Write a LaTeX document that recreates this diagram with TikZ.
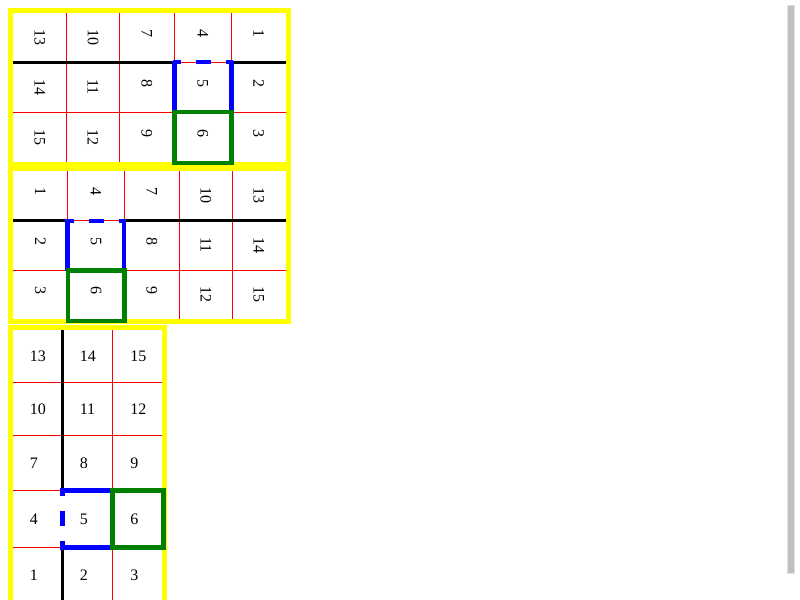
\documentclass[tikz,border=0pt]{standalone}
\usepackage{fontspec}
\setmainfont{Liberation Serif}
\definecolor{cellred}{RGB}{255,0,0}
\definecolor{frameyellow}{RGB}{255,255,0}
\definecolor{markblue}{RGB}{0,0,255}
\definecolor{markgreen}{RGB}{0,128,0}
\definecolor{barfill}{RGB}{192,192,192}
\definecolor{baredge}{RGB}{225,225,225}
\tikzset{
  num/.style={inner sep=0pt, font=\fontsize{12pt}{14pt}\selectfont},
  rnum/.style={num, rotate=-90, anchor=west},
  hnum/.style={num, anchor=west},
  thin grid/.style={draw=cellred, line width=0.75pt},
  thick black/.style={draw=black, line width=2.4pt},
  frame/.style={draw=frameyellow, line width=3.75pt},
  blueline/.style={draw=markblue, line width=3.375pt},
  bluedash/.style={draw=markblue, line width=3.375pt, dash pattern=on 11.25pt off 11.25pt, dash phase=5.25pt},
  greenbox/.style={draw=markgreen, line width=3.375pt},
}
\begin{document}
\begin{tikzpicture}[x=0.75pt,y=-0.75pt]
\useasboundingbox (0,0) rectangle (800,600);
\clip (0,0) rectangle (800,600);
\fill[white] (0,0) rectangle (800,600);

% ---------------- Grid 1 ----------------
\foreach \xx in {66.7,119.3,174.3,231.3} \draw[thin grid] (\xx,13) -- (\xx,162);
\foreach \yy in {62,112} \draw[thin grid] (13,\yy) -- (286,\yy);
\draw[thick black] (13,62.2) -- (174.5,62.2);
\draw[thick black] (231.3,62.2) -- (286,62.2);
\foreach \cx [count=\c] in {39.85,93,146.8,202.8,258.65}
  \foreach \ty [count=\r] in {29.5,79,129} {
    \pgfmathtruncatemacro{\v}{15-3*\c+\r}
    \node[rnum] (ga-\r-\c) at (\cx,\ty) {\v};
  }
\draw[frame] (10.5,10.5) rectangle (288.5,164.5);
\draw[blueline] (174.5,60.5) -- (174.5,112);
\draw[blueline] (231.3,60.5) -- (231.3,112);
\draw[bluedash] (172.5,62.2) -- (233.3,62.2);
\draw[greenbox] (174.5,112) rectangle (231.3,163);

% ---------------- Grid 2 ----------------
\foreach \xx in {67.7,124.3,179.3,232.3} \draw[thin grid] (\xx,170.7) -- (\xx,319);
\foreach \yy in {220.3,270} \draw[thin grid] (13,\yy) -- (285.5,\yy);
\draw[thick black] (13,220.5) -- (67.7,220.5);
\draw[thick black] (124,220.5) -- (285.5,220.5);
\foreach \cx [count=\c] in {40.35,96,151.8,205.8,258.9}
  \foreach \ty [count=\r] in {187.5,237.2,286.5} {
    \pgfmathtruncatemacro{\v}{3*(\c-1)+\r}
    \node[rnum] (gb-\r-\c) at (\cx,\ty) {\v};
  }
\draw[frame] (10.5,168.5) rectangle (288,321.5);
\draw[blueline] (67.7,219) -- (67.7,270.5);
\draw[blueline] (124,219) -- (124,270.5);
\draw[bluedash] (65.5,220.8) -- (126,220.8);
\draw[greenbox] (68,270.5) rectangle (124.5,321);

% ---------------- Grid 3 ----------------
\draw[thin grid] (112.3,330) -- (112.3,602);
\foreach \yy in {382.3,435.7,490.7,547.7} \draw[thin grid] (13,\yy) -- (161.5,\yy);
\draw[thick black] (62.3,330) -- (62.3,490.7);
\draw[thick black] (62.3,547.7) -- (62.3,602);
\foreach \lx [count=\c] in {29.6,79.5,130}
  \foreach \cy [count=\r] in {356.2,409,463.2,519.2,574.9} {
    \pgfmathtruncatemacro{\v}{3*(5-\r)+\c}
    \node[hnum] (gc-\r-\c) at (\lx,\cy) {\v};
  }
\draw[frame] (10.5,327.5) rectangle (164,612);
\draw[blueline] (60.5,490.5) -- (112.3,490.5);
\draw[blueline] (60.5,547.7) -- (112.3,547.7);
\draw[bluedash] (62.3,488.3) -- (62.3,550);
\draw[greenbox] (112.3,490.5) rectangle (163.3,547.7);

% ---------------- scroll bar ----------------
\draw[draw=baredge, fill=barfill, line width=0.75pt] (787.5,5) rectangle (794.5,573);
\end{tikzpicture}
\end{document}
